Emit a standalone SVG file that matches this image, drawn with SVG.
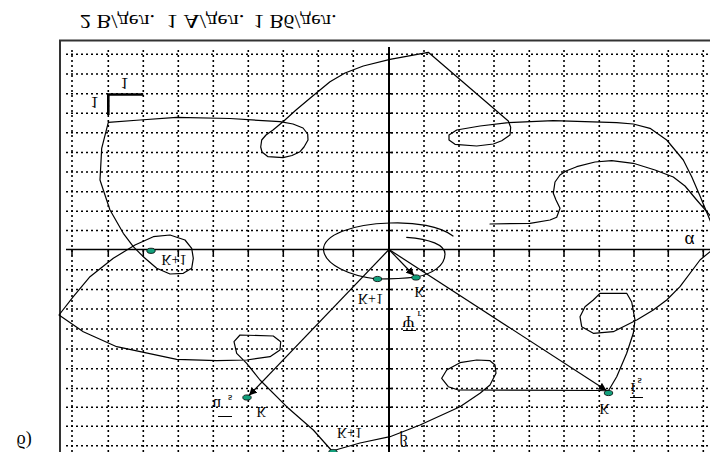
<svg xmlns="http://www.w3.org/2000/svg" width="710" height="452" viewBox="0 0 710 452">
<defs>
<style>
.g{stroke:#000;stroke-width:1.6;stroke-dasharray:2 3;fill:none}
.c{stroke:#000;stroke-width:1.2;fill:none;stroke-linejoin:round;stroke-linecap:round}
.v{stroke:#000;stroke-width:1.2;fill:none}
.t{font-family:"Liberation Serif","Times New Roman",serif;fill:#000}
.d{fill:#13a07c;stroke:#000;stroke-width:0.8}
.tk{stroke:#000;stroke-width:1.5}
</style>
<marker id="ah" viewBox="0 0 10 10" refX="10" refY="5" markerWidth="8" markerHeight="8" orient="auto" markerUnits="userSpaceOnUse">
<path d="M0,0 L10,5 L0,10 z" fill="#000"/>
</marker>
</defs>
<rect width="710" height="452" fill="#fff"/>
<g id="frame">
<path d="M60,452 V40.5 H710" stroke="#333" stroke-width="2" fill="none"/>
</g>
<g id="grid">
<path class="g" d="M72,50V452M108.3,50V452M143.3,50V452M178.3,50V452M213.3,50V452M248.3,50V452M283.3,50V452M318.3,50V452M353.3,50V452M424,50V452M459,50V452M494,50V452M529.3,50V452M564,50V452M599.3,50V452M634,50V452M668.3,50V452M703.3,50V452"/>
<path class="g" d="M66,54.3H710M66,74H710M66,93.8H710M66,113.2H710M66,132.8H710M66,152.5H710M66,172H710M66,191.7H710M66,211.3H710M66,230.5H710M66,269.8H710M66,289.5H710M66,309H710M66,329H710M66,349H710M66,368.8H710M66,388.5H710M66,407.3H710M66,426.2H710M66,445.7H710"/>
</g>
<g id="axes">
<line x1="389" y1="47" x2="389" y2="452" stroke="#000" stroke-width="2"/>
<line x1="66" y1="249.5" x2="710" y2="249.5" stroke="#000" stroke-width="1.5"/>
<path class="tk" d="M72,249.5v6M108.3,249.5v6M143.3,249.5v6M178.3,249.5v6M213.3,249.5v6M248.3,249.5v6M283.3,249.5v6M318.3,249.5v6M353.3,249.5v6M424,249.5v6M459,249.5v6M494,249.5v6M529.3,249.5v6M564,249.5v6M599.3,249.5v6M634,249.5v6M668.3,249.5v6M703.3,249.5v6"/>
<path class="tk" d="M389,74h4M389,93.8h4M389,113.2h4M389,132.8h4M389,152.5h4M389,172h4M389,191.7h4M389,211.3h4M389,230.5h4M389,269.8h4M389,289.5h4M389,309h4M389,329h4M389,349h4M389,368.8h4M389,388.5h4M389,407.3h4M389,426.2h4"/>
</g>
<g id="scale">
<path d="M108.3,115 V94.5 H143.3" stroke="#000" stroke-width="2.6" fill="none"/>
<text class="t" font-size="16" transform="translate(120.5,77.5) scale(1,-1)">1</text>
<text class="t" font-size="16" transform="translate(90.5,96.5) scale(1,-1)">1</text>
</g>
<g id="curves">
<polyline class="c" points="108.3,122.3 140,120 176.7,117.3 230,118.5 280,121.7 293,124 303,128 307.7,134 308,140 304,147 300,151.7 292,155.5 283,157.7 268,156.7 262,152 260.7,147 261.7,140 266,135 273,130 283,121.7 296,110 310,98.3 330,81.7 345,73 363.3,66 390,59.3 428.3,52.3 508.3,121 510.7,127.3 510,135 501.7,140.7 493.3,144 476.7,146 455,144.3 449,140 449,135 456.7,130 480,126 508.3,122.7 553.3,120.7 616.7,122.7 633.3,124 650,128.3 666.7,140 683.3,160 691.7,176.7 700,196 712,225 716,240 712,250 700,260 680,286.7 666.7,300 653.3,310 636.7,320 613.3,331.7 593.3,333.3 581.7,326.7 580,316.7 585,306.7 593.3,300 600,293.3 626.7,293.3 631.7,302 635,320 633.3,333.3 626.7,353.3 616.7,376.7 608.3,391 600,390.5 458.3,390 448.3,386.7 441.7,378.3 446.7,370 460,362.7 476.7,360 490,360.7 495,365 496,373.3 490,385 480,393.3 460,406.7 420,425 390,436.7 360,443 332,451 313.3,430 286.7,406.7 260,380 246.7,363.3 236.7,353.3 234,341.7 240,335 273.3,336 280.7,341.7 280,350 270,356.7 246.7,360 216.7,360.7 176.7,359.3 116.7,346.7 83.3,331.7 59,315 73.3,296.7 90,276.7 113.3,258.3 135,245 153.3,236.7 170,235 185,240 191.7,248.3 193.3,258.3 191.7,268.3 183.3,273.3 170,274 156.7,268.3 143.3,256.7 133.3,246.7 123.3,233.3 110,210 103.3,190 100,180 101.7,148.3 108.3,122.3"/>
<polyline class="c" points="490,224 530,223.3 550,220 556.7,217.3 560,208.3 556,200 553.3,193.3 555,182 560,175 566,171 576.7,166.7 595,162 611.7,160.7 633.3,163.3 655,170 673.3,177 685,186 696.7,200 708.3,213.3 716,223"/>
<path class="c" d="M406.7,237.3 C430,239 445,245 445,254 C445,266 432,274 416,277 C400,279 390,279 377,279 C350,276 325,265 323.5,250 C323,235 352,224 390,223 C415,222 440,226 453,236"/>
</g>
<g id="vectors">
<line class="v" x1="389" y1="249.5" x2="606.5" y2="390.5" marker-end="url(#ah)"/>
<line class="v" x1="389" y1="249.5" x2="414" y2="275.5" marker-end="url(#ah)"/>
<line class="v" x1="389" y1="249.5" x2="249" y2="395.5" marker-end="url(#ah)"/>
</g>
<g id="points">
<ellipse class="d" cx="151" cy="250.8" rx="4.2" ry="2.6"/>
<ellipse class="d" cx="377.5" cy="279" rx="4.2" ry="2.6"/>
<ellipse class="d" cx="416" cy="277.5" rx="4.2" ry="2.6"/>
<ellipse class="d" cx="247" cy="397.5" rx="4.2" ry="2.6"/>
<ellipse class="d" cx="608.5" cy="393" rx="4.2" ry="2.6"/>
<ellipse class="d" cx="333" cy="452" rx="4.2" ry="2.6"/>
</g>
<g id="labels">
<text class="t" font-size="18.5" textLength="75" lengthAdjust="spacingAndGlyphs" transform="translate(80,14.5) scale(1,-1)">2 В/дел.</text>
<text class="t" font-size="18.5" textLength="78" lengthAdjust="spacingAndGlyphs" transform="translate(166.5,14.5) scale(1,-1)">1 А/дел.</text>
<text class="t" font-size="18.5" textLength="83" lengthAdjust="spacingAndGlyphs" transform="translate(253.5,14.5) scale(1,-1)">1 Вб/дел.</text>
<text class="t" font-size="18" transform="translate(16.5,434.5) scale(1,-1)">б)</text>
<text class="t" font-size="14" transform="translate(161.5,255) scale(1,-1)">K+1</text>
<text class="t" font-size="14" transform="translate(358,294) scale(1,-1)">K+1</text>
<text class="t" font-size="14" transform="translate(414.5,287) scale(1,-1)">K</text>
<text class="t" font-size="19" transform="translate(684.5,235) scale(1,-1)">α</text>
<text class="t" font-size="16" transform="translate(402.5,315.5) scale(1,-1)">Ψ</text>
<text class="t" font-size="11" transform="translate(417.5,310.5) scale(1,-1)">r</text>
<line x1="403" y1="330.5" x2="416" y2="330.5" stroke="#000" stroke-width="1"/>
<text class="t" font-size="17" transform="translate(212.5,398.5) scale(1,-1)">u</text>
<text class="t" font-size="11" transform="translate(228,394.5) scale(1,-1)">s</text>
<line x1="218" y1="416.5" x2="232" y2="416.5" stroke="#000" stroke-width="1"/>
<text class="t" font-size="14" transform="translate(256.5,407) scale(1,-1)">K</text>
<text class="t" font-size="17" transform="translate(630.5,383) scale(1,-1)">i</text>
<text class="t" font-size="11" transform="translate(637.5,378) scale(1,-1)">s</text>
<line x1="630" y1="397.5" x2="643" y2="397.5" stroke="#000" stroke-width="1"/>
<text class="t" font-size="14" transform="translate(599.5,404) scale(1,-1)">K</text>
<text class="t" font-size="16" transform="translate(399.5,435) scale(1,-1)">β</text>
<text class="t" font-size="14" transform="translate(337,428) scale(1,-1)">K+1</text>
</g>
</svg>
